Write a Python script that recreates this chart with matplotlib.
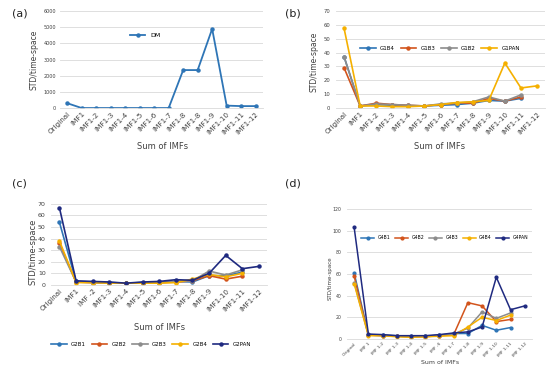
import matplotlib
matplotlib.use("Agg")
import matplotlib.pyplot as plt

# panel (a)
labels_a = ["Original", "IMF1", "IMF1-2", "IMF1-3", "IMF1-4", "IMF1-5", "IMF1-6",
            "IMF1-7", "IMF1-8", "IMF1-8", "IMF1-9", "IMF1-10", "IMF1-11", "IMF1-12"]
dm = [300, 0, 0, 0, 0, 0, 0, 0, 2350, 2350, 4900, 150, 120, 120]

# panel (b)
labels_b = ["Original", "IMF1", "IMF1-2", "IMF1-3", "IMF1-4", "IMF1-5", "IMF1-6",
            "IMF1-7", "IMF1-8", "IMF1-9", "IMF1-10", "IMF1-11", "IMF1-12"]
g1b4 = [37, 1.5, 2.5, 2, 1.5, 1.5, 2, 2.5, 3.5, 5.5, 5, 7]
g1b3 = [29, 1.5, 3.5, 2.5, 2, 1.5, 2.5, 3.5, 3.5, 7, 5, 8]
g1b2 = [37, 1.5, 3, 2.5, 2, 1.5, 3, 3.5, 4.5, 8, 5, 9.5]
g1pan = [57.5, 1.5, 1.5, 1, 1, 1.5, 2.5, 4, 4.5, 5.5, 32.5, 14.5, 16]

# panel (c)
labels_c = ["Original", "IMF1", "IMF -2", "IMF1-3", "IMF1-4", "IMF1-5", "IMF1-6",
            "IMF1-7", "IMF1-8", "IMF1-9", "IMF1-10", "IMF1-11", "IMF1-12"]
g2b1 = [54, 3, 2.5, 2, 1.5, 2, 2.5, 3, 2.5, 8, 8, 11]
g2b2 = [36, 2.5, 2, 1.5, 1.5, 1.5, 2, 2.5, 3.5, 8, 5, 7.5]
g2b3 = [33, 2.5, 2, 1.5, 1.5, 2, 2, 3, 3.5, 12, 8.5, 13]
g2b4 = [38, 2, 2, 1.5, 1.5, 1.5, 1.5, 2, 5, 9, 7, 10]
g2pan = [66.5, 3.5, 3, 2.5, 1.5, 2.5, 3, 4.5, 4, 10, 25.5, 14, 16]

# panel (d)
labels_d = ["Original", "IMF 1", "IMF 1-2", "IMF 1-3", "IMF 1-4", "IMF 1-5", "IMF -6",
            "IMF 1-7", "IMF 1-8", "IMF 1-9", "IMF 1-10", "IMF 1-11", "IMF 1-12"]
g4b1 = [61, 4, 3.5, 3, 2.5, 2.5, 3.5, 5, 5, 12.5, 8, 10.5]
g4b2 = [58, 3.5, 3, 2.5, 2, 2, 3, 4, 33.5, 30.5, 16, 18]
g4b3 = [52, 3.5, 3, 2.5, 2, 2.5, 3, 4.5, 10, 25, 19, 24]
g4b4 = [51, 3, 3, 2, 1.5, 2, 2.5, 3, 11, 20, 17, 22]
g4pan = [103, 4.5, 4, 3, 3, 3, 4, 5.5, 6.5, 11, 57, 27, 30.5]

BLUE = "#2E75B6"
RED = "#D2541C"
GRAY = "#8C8C8C"
GOLD = "#F5B000"
NAVY = "#1F2A80"

fig = plt.figure(figsize=(5.5, 3.7), dpi=100)


def style(ax, labels, ymax, ystep, tick_fs, ytick_fs, ypad=4):
    ax.set_xlim(-0.5, len(labels) - 0.5)
    ax.set_ylim(0, ymax)
    ax.set_yticks(range(0, ymax + 1, ystep))
    ax.set_xticks(range(len(labels)))
    ax.set_xticklabels(labels, rotation=45, ha="right", rotation_mode="anchor",
                       fontsize=tick_fs, color="#404040")
    ax.tick_params(axis="y", labelsize=ytick_fs, length=0, colors="#404040", pad=ypad)
    ax.tick_params(axis="x", length=0, pad=2)
    ax.grid(axis="y", color="#D9D9D9", linewidth=0.6)
    ax.set_axisbelow(True)
    for s in ["top", "right", "left"]:
        ax.spines[s].set_visible(False)
    ax.spines["bottom"].set_color("#D9D9D9")
    ax.spines["bottom"].set_linewidth(0.6)


def draw(ax, series, lw=1.2, ms=2.2):
    for name, vals, col in series:
        ax.plot(range(len(vals)), vals, color=col, lw=lw, marker="o", ms=ms, label=name)


# (a)
ax_a = fig.add_axes([0.109, 0.708, 0.369, 0.262])
draw(ax_a, [("DM", dm, BLUE)], lw=1.3)
style(ax_a, labels_a, 6000, 1000, 5.2, 3.5, ypad=3)
ax_a.legend(loc="center", bbox_to_anchor=(0.264, 0.905), bbox_transform=fig.transFigure,
            frameon=False, fontsize=4.5, handlelength=2.5)

# (b)
ax_b = fig.add_axes([0.611, 0.708, 0.380, 0.262])
draw(ax_b, [("G1B4", g1b4, BLUE), ("G1B3", g1b3, RED), ("G1B2", g1b2, GRAY),
            ("G1PAN", g1pan, GOLD)])
style(ax_b, labels_b, 70, 10, 5.2, 3.8)
ax_b.legend(loc="center", bbox_to_anchor=(0.80, 0.870), bbox_transform=fig.transFigure,
            frameon=False, fontsize=4, ncol=4, handlelength=2.8, columnspacing=1.0)

# (c)
ax_c = fig.add_axes([0.093, 0.230, 0.393, 0.219])
draw(ax_c, [("G2B1", g2b1, BLUE), ("G2B2", g2b2, RED), ("G2B3", g2b3, GRAY),
            ("G2B4", g2b4, GOLD), ("G2PAN", g2pan, NAVY)])
style(ax_c, labels_c, 70, 10, 5.2, 4.5)
ax_c.legend(loc="center", bbox_to_anchor=(0.275, 0.068), bbox_transform=fig.transFigure,
            frameon=False, fontsize=4, ncol=5, handlelength=2.8, columnspacing=1.0)

# (d)
ax_d = fig.add_axes([0.631, 0.084, 0.336, 0.351])
draw(ax_d, [("G4B1", g4b1, BLUE), ("G4B2", g4b2, RED), ("G4B3", g4b3, GRAY),
            ("G4B4", g4b4, GOLD), ("G4PAN", g4pan, NAVY)], lw=1.1, ms=2)
style(ax_d, labels_d, 120, 20, 3.2, 3.3)
ax_d.legend(loc="center", bbox_to_anchor=(0.809, 0.357), bbox_transform=fig.transFigure,
            frameon=False, fontsize=3.3, ncol=5, handlelength=2.8, columnspacing=1.0)

# panel letters
for txt, x, y in [("(a)", 12, 14), ("(b)", 285, 14), ("(c)", 12, 183), ("(d)", 285, 183)]:
    fig.text(x / 550, 1 - y / 370, txt, fontsize=8, ha="left", va="center", color="#222222")

# axis titles
for x, y, fs in [(34, 60, 5.5), (314, 62, 5.5), (33, 252, 6), (330, 278, 4)]:
    fig.text(x / 550, 1 - y / 370, "STD/time-space", rotation=90, fontsize=fs,
             ha="center", va="center", color="#404040")
for x, y, fs in [(163, 147, 6), (440, 147, 6), (160, 327, 6), (440, 363, 4.5)]:
    fig.text(x / 550, 1 - y / 370, "Sum of IMFs", fontsize=fs,
             ha="center", va="center", color="#404040")

fig.savefig("out.png", dpi=100)
